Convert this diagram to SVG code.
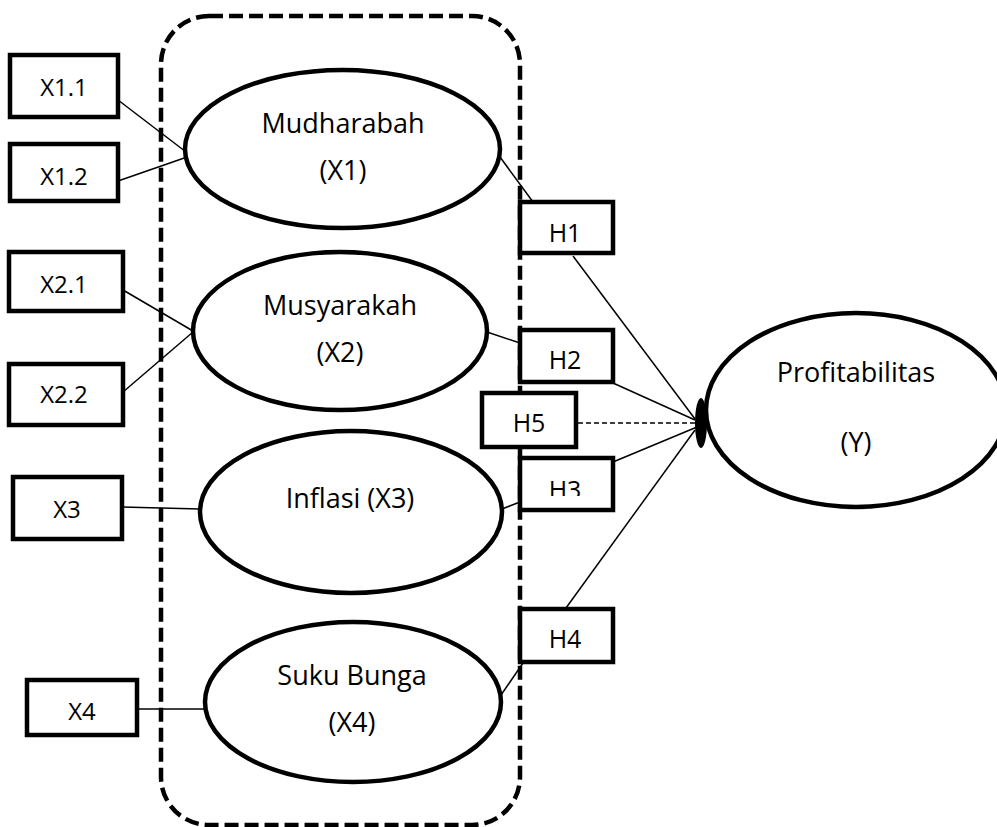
<svg xmlns="http://www.w3.org/2000/svg" width="997" height="827" viewBox="0 0 997 827">
<style>
  .lbl { font-family: "Open Sans", "Noto Sans", sans-serif; fill: #000; text-anchor: middle; }
  .big { font-size: 27px; }
  .box { font-size: 24px; }
  .h { font-size: 25px; }
  .node-rect { fill: #fff; stroke: #000; stroke-width: 4.5; }
  .node-ell { fill: #fff; stroke: #000; stroke-width: 4.5; }
  .conn { stroke: #000; stroke-width: 1.5; fill: none; }
  .dash { stroke-dasharray: 5 3; }
  .frame { fill: none; stroke: #000; stroke-width: 4.5; stroke-dasharray: 14 6; }
</style>
<defs>
  <clipPath id="clipH3"><rect x="520" y="458" width="93" height="38"/></clipPath>
</defs>
<rect width="997" height="827" fill="#fff"/>
<g id="frame">
  <rect class="frame" x="161" y="16" width="359" height="809" rx="48" ry="48"/>
</g>
<g id="connectors">
  <line class="conn" x1="118" y1="100" x2="190" y2="155"/>
  <line class="conn" x1="118" y1="181" x2="190" y2="156"/>
  <line class="conn" x1="123" y1="290" x2="193" y2="331"/>
  <line class="conn" x1="123" y1="392" x2="193" y2="332"/>
  <line class="conn" x1="122" y1="507" x2="200" y2="509"/>
  <line class="conn" x1="137" y1="709" x2="205" y2="709"/>
  <line class="conn" x1="500" y1="157" x2="533" y2="202"/>
  <line class="conn" x1="487" y1="332" x2="520" y2="343"/>
  <line class="conn" x1="502" y1="509" x2="520" y2="502"/>
  <line class="conn" x1="501" y1="695" x2="523" y2="663"/>
  <line class="conn" x1="573" y1="256" x2="695" y2="419"/>
  <line class="conn" x1="613" y1="383" x2="695" y2="420"/>
  <line class="conn dash" x1="578" y1="423" x2="697" y2="423"/>
  <line class="conn" x1="613" y1="462" x2="697" y2="427"/>
  <line class="conn" x1="566" y1="608" x2="695" y2="430"/>
</g>
<g id="node-x11">
  <rect class="node-rect" x="10" y="55" width="108" height="62"/>
  <text class="lbl box" x="64" y="96">X1.1</text>
</g>
<g id="node-x12">
  <rect class="node-rect" x="10" y="144" width="108" height="57"/>
  <text class="lbl box" x="64" y="185">X1.2</text>
</g>
<g id="node-x21">
  <rect class="node-rect" x="9" y="252" width="114" height="59"/>
  <text class="lbl box" x="64" y="293">X2.1</text>
</g>
<g id="node-x22">
  <rect class="node-rect" x="9" y="364" width="114" height="61"/>
  <text class="lbl box" x="64" y="403">X2.2</text>
</g>
<g id="node-x3">
  <rect class="node-rect" x="13" y="477" width="109" height="62"/>
  <text class="lbl box" x="67" y="518">X3</text>
</g>
<g id="node-x4">
  <rect class="node-rect" x="27" y="680" width="110" height="55"/>
  <text class="lbl box" x="82" y="720">X4</text>
</g>
<g id="node-mudharabah">
  <ellipse class="node-ell" cx="342.5" cy="149" rx="157.5" ry="79"/>
  <text class="lbl big" x="343" y="133">Mudharabah</text>
  <text class="lbl big" x="343" y="180">(X1)</text>
</g>
<g id="node-musyarakah">
  <ellipse class="node-ell" cx="340" cy="331" rx="147" ry="79"/>
  <text class="lbl big" x="340" y="315">Musyarakah</text>
  <text class="lbl big" x="340" y="362">(X2)</text>
</g>
<g id="node-inflasi">
  <ellipse class="node-ell" cx="351" cy="512" rx="151" ry="81"/>
  <text class="lbl big" x="350" y="508">Inflasi (X3)</text>
</g>
<g id="node-sukubunga">
  <ellipse class="node-ell" cx="353" cy="702" rx="148" ry="80"/>
  <text class="lbl big" x="352" y="685">Suku Bunga</text>
  <text class="lbl big" x="352" y="732">(X4)</text>
</g>
<g id="node-h1">
  <rect class="node-rect" x="520" y="202" width="93" height="51"/>
  <text class="lbl h" x="565" y="242">H1</text>
</g>
<g id="node-h2">
  <rect class="node-rect" x="520" y="330" width="93" height="52"/>
  <text class="lbl h" x="565" y="369">H2</text>
</g>
<g id="node-h5">
  <rect class="node-rect" x="482" y="393" width="94" height="54"/>
  <text class="lbl h" x="529" y="432">H5</text>
</g>
<g id="node-h3">
  <rect class="node-rect" x="520" y="458" width="93" height="52"/>
  <text class="lbl h" x="565" y="499" clip-path="url(#clipH3)">H3</text>
</g>
<g id="node-h4">
  <rect class="node-rect" x="520" y="609" width="93" height="53"/>
  <text class="lbl h" x="565" y="648">H4</text>
</g>
<g id="node-profitabilitas">
  <ellipse class="node-ell" cx="856" cy="410" rx="150" ry="97"/>
  <ellipse cx="701" cy="423" rx="6" ry="25" fill="#000"/>
  <text class="lbl big" x="856" y="382">Profitabilitas</text>
  <text class="lbl big" x="856" y="452">(Y)</text>
</g>
</svg>
